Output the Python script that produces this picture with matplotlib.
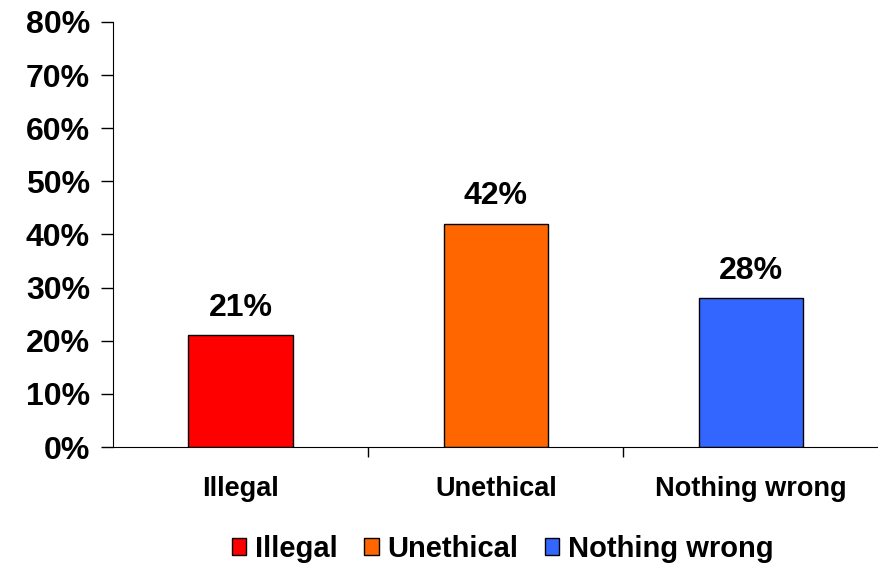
import matplotlib.pyplot as plt
from matplotlib.patches import Patch
from matplotlib.ticker import PercentFormatter

categories = ['Illegal', 'Unethical', 'Nothing wrong']
values = [21, 42, 28]
colors = ['#FF0000', '#FF6600', '#3366FF']
y_ticks = [0, 10, 20, 30, 40, 50, 60, 70, 80]

plt.rcParams['font.family'] = ['Liberation Sans', 'DejaVu Sans']
plt.rcParams['font.weight'] = 'bold'

fig = plt.figure(figsize=(8.79, 5.63), dpi=100)
ax = fig.add_axes([0.1286, 0.206, 0.871, 0.755])

x = range(len(categories))
ax.bar(x, values, width=0.41, color=colors, edgecolor='black', linewidth=1)

# value labels above bars
for i, v in enumerate(values):
    ax.annotate(f'{v}%', (i, v), xytext=(0, 9), textcoords='offset points',
                ha='center', va='bottom', fontsize=23, fontweight='bold')

ax.set_xlim(-0.5, 2.5)
ax.set_ylim(0, 80)
ax.set_yticks(y_ticks)
ax.yaxis.set_major_formatter(PercentFormatter(decimals=0))
ax.tick_params(axis='y', labelsize=23, length=8.5, width=1, pad=8)

ax.set_xticks(list(x))
ax.set_xticklabels(categories, fontsize=19.5, fontweight='bold')
ax.tick_params(axis='x', which='major', length=0, pad=21)
ax.set_xticks([0.5, 1.5, 2.5], minor=True)
ax.tick_params(axis='x', which='minor', length=7, width=1)

for s in ['top', 'right']:
    ax.spines[s].set_visible(False)

handles = [Patch(facecolor=c, edgecolor='black', label=l) for c, l in zip(colors, categories)]
fig.legend(handles=handles, loc='center', bbox_to_anchor=(0.572, 0.025), ncol=3,
           frameon=False, fontsize=21, handlelength=0.5, handleheight=0.5,
           handletextpad=0.3, columnspacing=0.9)

fig.savefig('out.png', dpi=100)
